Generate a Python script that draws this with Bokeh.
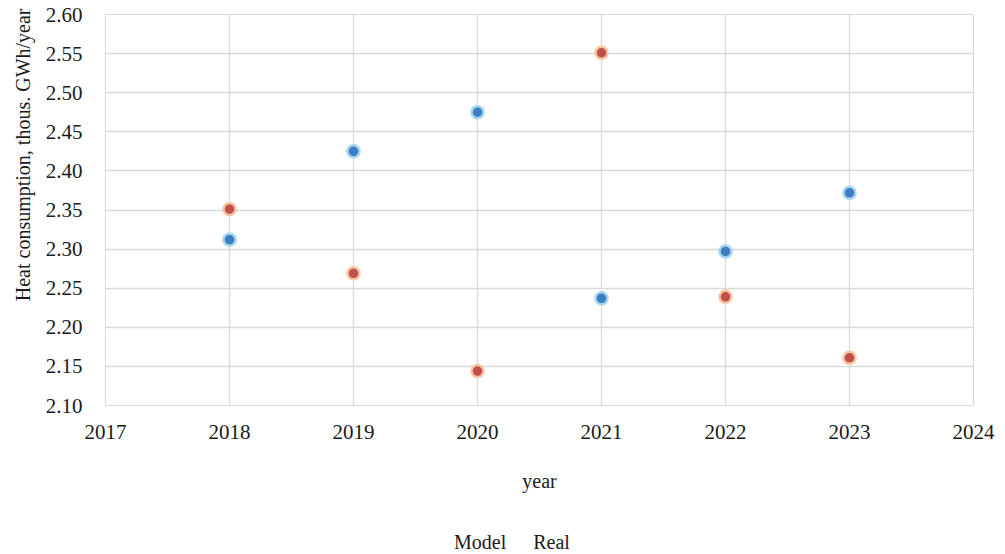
from bokeh.plotting import figure
from bokeh.layouts import column
from bokeh.models import Legend, LegendItem, FixedTicker, Range1d, CustomJSTickFormatter, Title
from bokeh.embed import file_html
from bokeh.resources import INLINE

years = [2018, 2019, 2020, 2021, 2022, 2023]
model = [2.312, 2.425, 2.475, 2.237, 2.297, 2.372]
real = [2.351, 2.269, 2.144, 2.551, 2.239, 2.161]
x_ticks = [2017, 2018, 2019, 2020, 2021, 2022, 2023, 2024]
y_ticks = [2.10, 2.15, 2.20, 2.25, 2.30, 2.35, 2.40, 2.45, 2.50, 2.55, 2.60]

FONT = "Liberation Serif"
GRID = "#d9d9d9"
INK = "#1a1a1a"
MODEL_STYLE = dict(fill_color="#3f7dc2", line_color="#a3d6ee", line_width=2.5)
REAL_STYLE = dict(fill_color="#c0504d", line_color="#f8c59e", line_width=2.5)

# main scatter chart
p = figure(width=1005, height=520,
           output_backend="svg", toolbar_location=None,
           x_range=Range1d(2017, 2024), y_range=Range1d(2.10, 2.60),
           min_border_left=105, min_border_right=32, min_border_top=14, min_border_bottom=115)
p.outline_line_color = GRID
p.background_fill_color = "white"
p.border_fill_color = "white"

for ax in (p.xaxis[0], p.yaxis[0]):
    ax.major_tick_line_color = None
    ax.minor_tick_line_color = None
    ax.axis_line_color = GRID
    ax.major_label_text_font = FONT
    ax.major_label_text_font_size = "21px"
    ax.major_label_text_color = INK
    ax.axis_label_text_font = FONT
    ax.axis_label_text_font_size = "20px"
    ax.axis_label_text_font_style = "normal"
    ax.axis_label_text_color = INK

p.xaxis.ticker = FixedTicker(ticks=x_ticks)
p.yaxis.ticker = FixedTicker(ticks=y_ticks)
p.yaxis.formatter = CustomJSTickFormatter(code="return tick.toFixed(2);")
p.xaxis.axis_label = "year"
p.xaxis.major_label_standoff = 13
p.xaxis.axis_label_standoff = 28
p.yaxis.major_label_standoff = 17

# vertical axis title, set flush with the top of the plot area
p.add_layout(Title(text="Heat consumption, thous. GWh/year", align="right",
                   text_font=FONT, text_font_size="20px", text_font_style="normal",
                   text_color=INK, standoff=18, offset=-6), "left")

p.xgrid.grid_line_color = GRID
p.ygrid.grid_line_color = GRID
p.xgrid.grid_line_width = 1.3
p.ygrid.grid_line_width = 1.3

p.scatter(years, model, size=12, **MODEL_STYLE)
p.scatter(years, real, size=12, **REAL_STYLE)

# legend strip underneath the chart
lg = figure(width=1005, height=34, output_backend="svg", toolbar_location=None,
            x_range=Range1d(0, 1), y_range=Range1d(0, 1),
            x_axis_type=None, y_axis_type=None,
            min_border_left=0, min_border_right=0, min_border_top=0, min_border_bottom=0)
lg.outline_line_color = None
lg.xgrid.visible = False
lg.ygrid.visible = False
k_model = lg.scatter([], [], size=12, **MODEL_STYLE)
k_real = lg.scatter([], [], size=12, **REAL_STYLE)

legend = Legend(items=[LegendItem(label="Model", renderers=[k_model]),
                       LegendItem(label="Real", renderers=[k_real])],
                orientation="horizontal", location=(334, 0),
                label_text_font=FONT, label_text_font_size="20px", label_text_color=INK,
                glyph_width=12, glyph_height=12, label_standoff=3, spacing=12,
                label_height=20,
                border_line_color=None, background_fill_alpha=0,
                padding=0, margin=0)
lg.add_layout(legend, "center")

layout = column(p, lg, spacing=0)
open("out.html", "w").write(file_html(layout, INLINE))
